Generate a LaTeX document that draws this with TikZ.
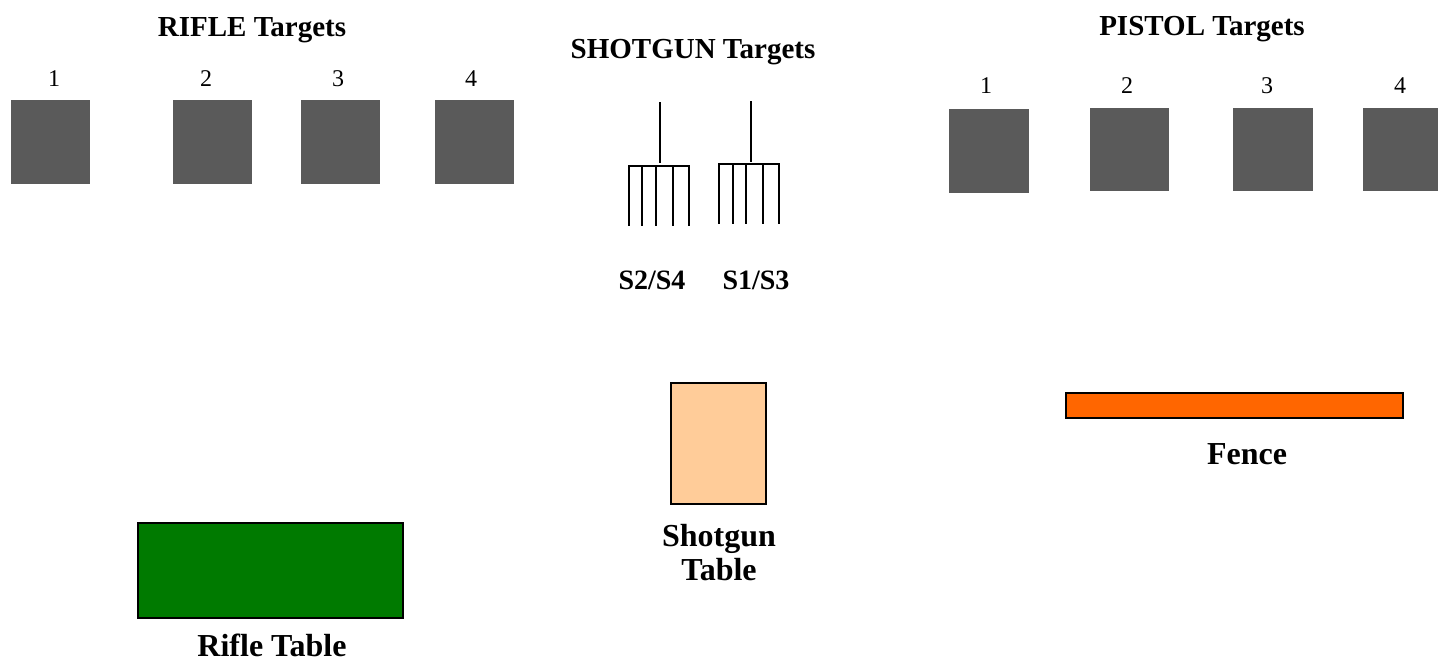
\documentclass[tikz,border=0pt]{standalone}
\usepackage{fontspec}
\setmainfont{Liberation Serif}
\definecolor{targetgray}{HTML}{5A5A5A}
\definecolor{tablegreen}{HTML}{007A00}
\definecolor{tablepeach}{HTML}{FFCC99}
\definecolor{fenceorange}{HTML}{FF6600}
\tikzset{
  target/.style={fill=targetgray, draw=none},
  tablebox/.style={draw=black, line width=2pt},
  title/.style={font=\bfseries\fontsize{29}{34}\selectfont, anchor=base, inner sep=0pt},
  numlabel/.style={font=\fontsize{24}{28}\selectfont, anchor=base, inner sep=0pt},
  slabel/.style={font=\bfseries\fontsize{28}{32}\selectfont, anchor=base, inner sep=0pt},
  biglabel/.style={font=\bfseries\fontsize{32}{36}\selectfont, anchor=base, inner sep=0pt},
  fork/.style={line width=2.2pt, line cap=rect},
}
\begin{document}
\begin{tikzpicture}[x=1pt,y=-1pt]
\useasboundingbox (0,0) rectangle (1438,663);

% Titles
\node[title] (rtitle) at (252,37) {RIFLE Targets};
\node[title] (stitle) at (693,59) {SHOTGUN Targets};
\node[title] (ptitle) at (1202,36) {PISTOL Targets};

% Rifle targets
\path[target] (11,100) rectangle (90,184);
\path[target] (173,100) rectangle (252,184);
\path[target] (301,100) rectangle (380,184);
\path[target] (435,100) rectangle (514,184);
\node[numlabel] (r1) at (54,87) {1};
\node[numlabel] (r2) at (206,87) {2};
\node[numlabel] (r3) at (338,87) {3};
\node[numlabel] (r4) at (471,87) {4};

% Pistol targets
\path[target] (949,109) rectangle (1029,193);
\path[target] (1090,108) rectangle (1169,191);
\path[target] (1233,108) rectangle (1313,191);
\path[target] (1363,108) rectangle (1438,191);
\node[numlabel] (p1) at (986,94) {1};
\node[numlabel] (p2) at (1127,94) {2};
\node[numlabel] (p3) at (1267,94) {3};
\node[numlabel] (p4) at (1400,94) {4};

% Shotgun forks
\draw[fork] (660,103) -- (660,162);
\draw[fork] (629,166) -- (689,166);
\foreach \x in {629,642,656,673,689} \draw[fork] (\x,166) -- (\x,225);
\draw[fork] (751,102) -- (751,161);
\draw[fork] (719,164) -- (779,164);
\foreach \x in {719,733,746,763,779} \draw[fork] (\x,164) -- (\x,223);
\node[slabel] (s24) at (652,290) {S2/S4};
\node[slabel] (s13) at (756,290) {S1/S3};

% Tables and fence
\path[tablebox, fill=tablegreen] (138,523) rectangle (403,618);
\node[biglabel] (rtable) at (272,656) {Rifle Table};
\path[tablebox, fill=tablepeach] (671,383) rectangle (766,504);
\node[biglabel] (stable1) at (719,546) {Shotgun};
\node[biglabel] (stable2) at (719,580) {Table};
\path[tablebox, fill=fenceorange] (1066,393) rectangle (1403,418);
\node[biglabel] (fence) at (1247,464) {Fence};
\end{tikzpicture}
\end{document}
